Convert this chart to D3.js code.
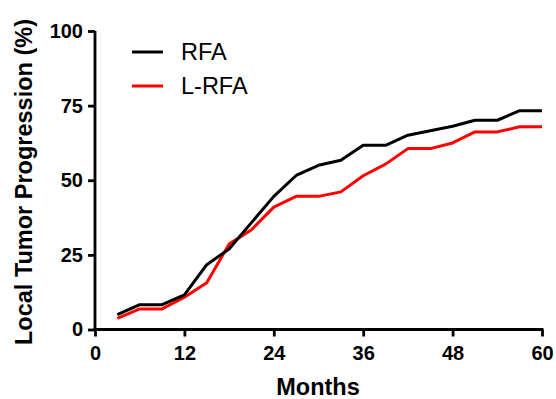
<!DOCTYPE html>
<html>
<head>
<meta charset="utf-8">
<script src="https://cdn.jsdelivr.net/npm/d3@7"></script>
<style>
  html, body { margin: 0; padding: 0; background: #fff; }
  svg { display: block; }
  text { font-family: "Liberation Sans", Arial, sans-serif; }
</style>
</head>
<body>
<script>
const months = [3, 6, 9, 12, 15, 18, 21, 24, 27, 30, 33, 36, 39, 42, 45, 48, 51, 54, 57, 60];
const rfaValues = [5.0, 8.3, 8.3, 11.6, 21.7, 27.0, 35.8, 44.6, 51.6, 55.0, 56.7, 61.7, 61.7, 65.1, 66.6, 68.1, 70.1, 70.1, 73.3, 73.3];
const lrfaValues = [3.7, 6.9, 6.9, 10.8, 15.7, 28.6, 33.4, 41.0, 44.6, 44.6, 46.1, 51.5, 55.4, 60.6, 60.6, 62.5, 66.2, 66.2, 67.9, 67.9];
const seriesNames = ["RFA", "L-RFA"];
const seriesColors = ["#000000", "#ff0000"];
const xTicks = [0, 12, 24, 36, 48, 60];
const yTicks = [0, 25, 50, 75, 100];

const W = 556, H = 399;
const svg = d3.select("body").append("svg").attr("width", W).attr("height", H);

const x = d3.scaleLinear().domain([0, 60]).range([95, 542]);
const y = d3.scaleLinear().domain([0, 100]).range([329.5, 31]);

// axes
const xAxis = svg.append("g").attr("transform", `translate(0,${y(0)})`)
  .call(d3.axisBottom(x).tickValues(xTicks).tickSize(7).tickPadding(9).tickSizeOuter(0));
const yAxis = svg.append("g").attr("transform", `translate(${x(0)},0)`)
  .call(d3.axisLeft(y).tickValues(yTicks).tickSize(7).tickPadding(5).tickSizeOuter(0));

[xAxis, yAxis].forEach(g => {
  g.select(".domain").attr("stroke", "#000").attr("stroke-width", 2.8);
  g.selectAll(".tick line").attr("stroke", "#000").attr("stroke-width", 2.8);
  g.selectAll(".tick text").attr("fill", "#000")
    .attr("font-family", "'Liberation Sans', Arial, sans-serif")
    .attr("font-size", 20).attr("font-weight", "bold");
});
xAxis.select(".domain").attr("d", `M${x(0) - 1.4},0H${x(60) + 1.4}`);
yAxis.select(".domain").attr("d", `M0,${y(100)}V${y(0) + 1.4}`);

// lines
const allSeries = [rfaValues, lrfaValues];
const line = d3.line().x((d, i) => x(months[i])).y(d => y(d));
[1, 0].forEach(k => {
  svg.append("path").datum(allSeries[k])
    .attr("fill", "none").attr("stroke", seriesColors[k])
    .attr("stroke-width", 3).attr("stroke-linejoin", "round")
    .attr("d", line);
});

// axis titles
svg.append("text").attr("x", 318).attr("y", 395).attr("text-anchor", "middle")
  .attr("font-size", 23.5).attr("font-weight", "bold").text("Months");
svg.append("text").attr("transform", "translate(32,182) rotate(-90)")
  .attr("text-anchor", "middle").attr("font-size", 23.5).attr("font-weight", "bold")
  .text("Local Tumor Progression (%)");

// legend
const legendY = [52, 86];
seriesNames.forEach((name, i) => {
  svg.append("line").attr("x1", 132).attr("x2", 163).attr("y1", legendY[i]).attr("y2", legendY[i])
    .attr("stroke", seriesColors[i]).attr("stroke-width", 3);
  svg.append("text").attr("x", 181).attr("y", legendY[i] + 8)
    .attr("font-size", 23.5).attr("fill", "#000").text(name);
});
</script>
</body>
</html>
